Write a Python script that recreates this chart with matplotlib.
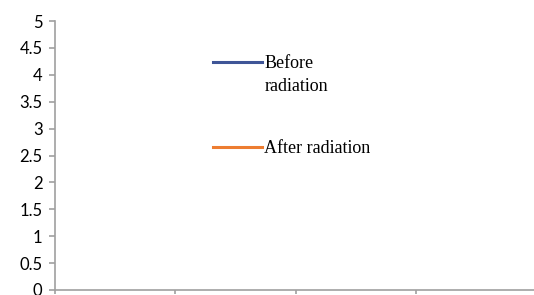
import numpy as np
import matplotlib.pyplot as plt
from matplotlib.legend_handler import HandlerLine2D

# chart data (no points are visible in the source chart)
categories = []
before_radiation = []
after_radiation = []

y_ticks = [0, 0.5, 1, 1.5, 2, 2.5, 3, 3.5, 4, 4.5, 5]
y_labels = ["0", "0.5", "1", "1.5", "2", "2.5", "3", "3.5", "4", "4.5", "5"]
x_ticks = [0, 1, 2, 3, 4]

axis_grey = "#a0a0a0"


class ShiftedLine(HandlerLine2D):
    # legend line drawn next to the first text row instead of the middle
    def __init__(self, shift, **kw):
        super().__init__(**kw)
        self.shift = shift

    def create_artists(self, legend, orig_handle, xdescent, ydescent,
                       width, height, fontsize, trans):
        artists = super().create_artists(legend, orig_handle, xdescent, ydescent,
                                         width, height, fontsize, trans)
        for a in artists:
            a.set_ydata(np.asarray(a.get_ydata()) + self.shift * fontsize)
        return artists


fig = plt.figure(figsize=(5.34, 2.95), dpi=100)
ax = fig.add_axes([55 / 534, 5 / 295, 481 / 534, 269 / 295])

l1, = ax.plot(categories, before_radiation, color="#3f5597", lw=2.2, label="Before\nradiation")
l2, = ax.plot(categories, after_radiation, color="#ed7d31", lw=2.2, label="After radiation")

ax.set_xlim(0, 4)
ax.set_ylim(0, 5)
ax.set_xticks(x_ticks)
ax.set_xticklabels([])
ax.set_yticks(y_ticks)
ax.set_yticklabels(y_labels, family="Lato", fontsize=12)

for side in ["top", "right"]:
    ax.spines[side].set_visible(False)
for side in ["left", "bottom"]:
    ax.spines[side].set_color(axis_grey)
    ax.spines[side].set_linewidth(1.2)
ax.tick_params(axis="y", direction="out", length=4, color=axis_grey, width=1.2, pad=5)
ax.tick_params(axis="x", direction="out", length=3, color=axis_grey, width=1.2)

leg = ax.legend(loc="upper left", bbox_to_anchor=(158 / 481, 1 - 34 / 269),
                frameon=False, prop={"family": "Liberation Serif", "size": 13},
                handlelength=2.7, handletextpad=0.15, labelspacing=2.52,
                borderpad=0, borderaxespad=0,
                handler_map={l1: ShiftedLine(0.74)})
leg.get_texts()[0].set_linespacing(1.45)

fig.savefig("out.png", dpi=100)
